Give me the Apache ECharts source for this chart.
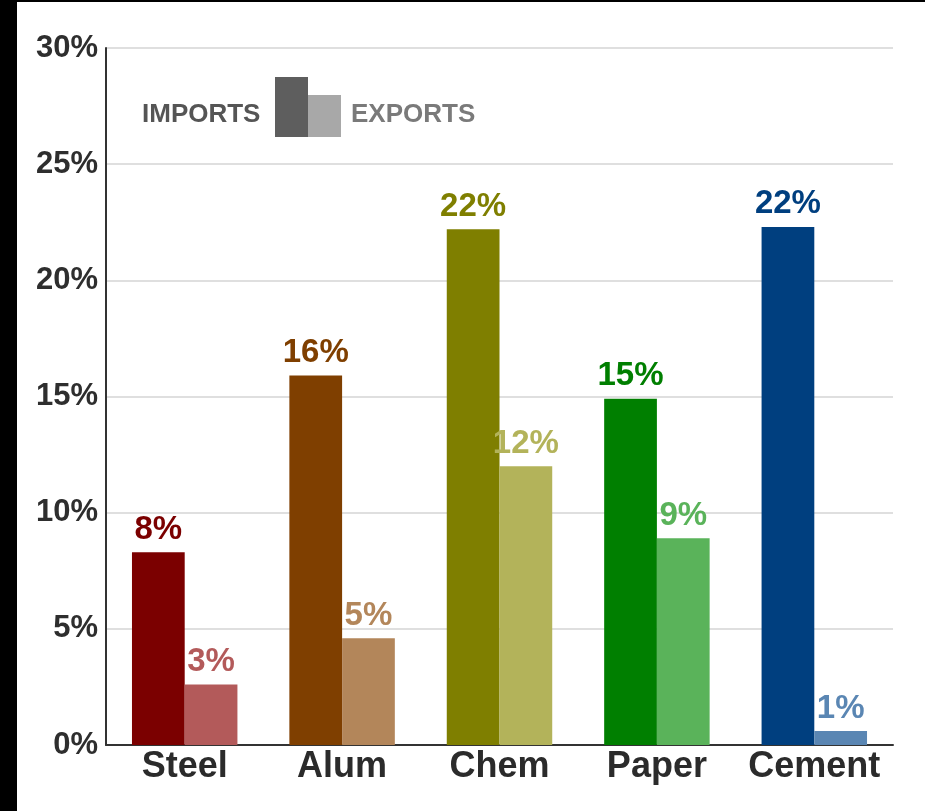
<!DOCTYPE html>
<html>
<head>
<meta charset="utf-8">
<script src="https://cdn.jsdelivr.net/npm/echarts@6/dist/echarts.min.js"></script>
<style>
  html, body { margin: 0; padding: 0; background: #fff; }
  #wrap { position: relative; width: 925px; height: 811px; overflow: hidden; background: #fff; }
  #leftband { position: absolute; left: 0; top: 0; width: 17px; height: 811px; background: #000; z-index: 2; }
  #topband { position: absolute; left: 0; top: 0; width: 925px; height: 2px; background: #000; z-index: 2; }
  #chart { position: absolute; left: 0; top: 0; width: 925px; height: 811px; }
</style>
</head>
<body>
<div id="wrap">
  <div id="chart"></div>
  <div id="leftband"></div>
  <div id="topband"></div>
</div>
<script>
const categories = ['Steel', 'Alum', 'Chem', 'Paper', 'Cement'];
const importValues = [8.3, 15.9, 22.2, 14.9, 22.3];
const exportValues = [2.6, 4.6, 12.0, 8.9, 0.6];
const importColors = ['#7b0000', '#7f3f00', '#7f7f00', '#007f00', '#003f7f'];
const exportColors = ['#b35a5a', '#b3865a', '#b3b35a', '#5ab35a', '#5a86b3'];
const yTicks = { min: 0, max: 30, interval: 5 };
const legendLabels = ['IMPORTS', 'EXPORTS'];

const FONT = "'Liberation Sans', Arial, sans-serif";

function makeData(values, colors) {
  return values.map((v, i) => ({
    value: v,
    itemStyle: { color: colors[i] },
    label: { color: colors[i] }
  }));
}

const chart = echarts.init(document.getElementById('chart'), null, { renderer: 'canvas' });
chart.setOption({
  animation: false,
  backgroundColor: '#fff',
  grid: { left: 106, right: 32, top: 48, bottom: 66, containLabel: false },
  xAxis: {
    type: 'category',
    data: categories,
    axisLine: { show: true, lineStyle: { color: '#333', width: 2 } },
    axisTick: { show: false },
    axisLabel: { interval: 0, color: '#2b2b2b', fontFamily: FONT, fontWeight: 'bold', fontSize: 36, margin: 4 }
  },
  yAxis: {
    type: 'value',
    min: yTicks.min, max: yTicks.max, interval: yTicks.interval,
    axisLine: { show: true, lineStyle: { color: '#333', width: 2 } },
    axisTick: { show: false },
    splitLine: { show: true, lineStyle: { color: '#d4d4d4', width: 1.5 } },
    axisLabel: { formatter: '{value}%', color: '#2e2e2e', fontFamily: FONT, fontWeight: 'bold', fontSize: 31, margin: 8 }
  },
  series: [
    {
      name: legendLabels[0], type: 'bar',
      data: makeData(importValues, importColors),
      barGap: '0%', barCategoryGap: '33%',
      label: { show: true, position: 'top', distance: 6, fontFamily: FONT, fontWeight: 'bold', fontSize: 33,
        formatter: p => Math.round(p.value) + '%' }
    },
    {
      name: legendLabels[1], type: 'bar',
      data: makeData(exportValues, exportColors),
      barGap: '0%', barCategoryGap: '33%',
      label: { show: true, position: 'top', distance: 6, fontFamily: FONT, fontWeight: 'bold', fontSize: 33,
        formatter: p => Math.round(p.value) + '%' }
    }
  ],
  graphic: [
    { type: 'text', left: 142, top: 102, style: { text: legendLabels[0], fill: '#555', font: "bold 26px 'Liberation Sans', Arial, sans-serif" } },
    { type: 'rect', shape: { x: 275, y: 77, width: 33, height: 60 }, style: { fill: '#5e5e5e' } },
    { type: 'rect', shape: { x: 308, y: 95, width: 33, height: 42 }, style: { fill: '#a8a8a8' } },
    { type: 'text', left: 351, top: 102, style: { text: legendLabels[1], fill: '#7a7a7a', font: "bold 26px 'Liberation Sans', Arial, sans-serif" } }
  ]
});
</script>
</body>
</html>
